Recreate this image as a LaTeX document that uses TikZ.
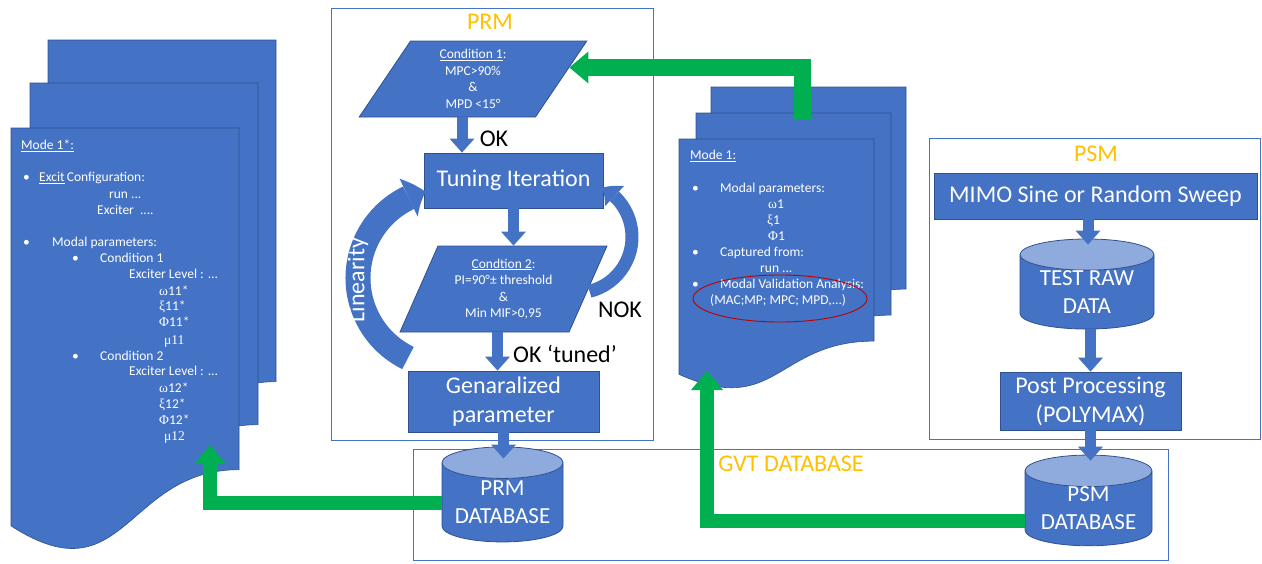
\documentclass[tikz,border=0pt]{standalone}
\usepackage{fontspec}
\setmainfont{Carlito}
\newfontfamily\grk{Liberation Serif}
\usetikzlibrary{shapes.geometric,arrows.meta,bending,calc}

\definecolor{boxblue}{HTML}{4472C4}
\definecolor{edgeblue}{HTML}{2F528F}
\definecolor{topblue}{HTML}{8FAADC}
\definecolor{tagorange}{HTML}{FFC000}
\definecolor{flowgreen}{HTML}{00B050}
\definecolor{ringred}{HTML}{C00000}

% one sheet of a stacked document: left, top, width, height
\newcommand{\docsheet}[4]{%
  \filldraw[sheet] (#1,-#2) -- ({#1+#3},-#2) -- ({#1+#3},{-#2-0.802*#4})
    .. controls ({#1+0.5*#3},{-#2-0.802*#4}) and ({#1+0.5*#3},{-#2-1.107*#4}) .. (#1,{-#2-0.934*#4}) -- cycle;}

\tikzset{
  bigfont/.style={font=\fontsize{24}{29}\selectfont},
  smallfont/.style={font=\fontsize{13.5}{16.5}\selectfont},
  procbox/.style={draw=edgeblue, line width=0.8pt, fill=boxblue, text=white, bigfont, align=center, inner sep=0pt},
  database/.style={cylinder, shape border rotate=90, aspect=0.33, draw=edgeblue, line width=0.8pt,
    cylinder uses custom fill, cylinder body fill=boxblue, cylinder end fill=topblue,
    text=white, align=center, inner sep=0pt, font=\fontsize{23}{28}\selectfont},
  testbox/.style={trapezium, trapezium stretches=true, trapezium left angle=65, trapezium right angle=115,
    draw=edgeblue, line width=0.8pt, fill=boxblue, text=white, smallfont, align=center, inner sep=0pt},
  sheet/.style={fill=boxblue, draw=edgeblue, line width=0.6pt},
  sheettext/.style={smallfont, text=white, anchor=west, inner sep=0pt, text height=9.5pt, text depth=3pt},
  frame/.style={draw=boxblue, line width=0.9pt},
  tag/.style={bigfont, text=tagorange, inner sep=0pt},
  flowlabel/.style={bigfont, text=black, inner sep=0pt},
  bluearrow/.style={draw=boxblue, line width=11pt, -{Triangle[width=25pt,length=14pt,line width=0pt]}},
  greenarrow/.style={draw=flowgreen, line width=14pt, line join=miter, -{Triangle[width=32pt,length=19pt,line width=0pt]}},
  looparrow/.style={draw=boxblue, line width=25pt, -{Triangle[width=42pt,length=18pt,line width=0pt,bend]}},
  nokarrow/.style={draw=boxblue, line width=13pt, -{Triangle[width=28pt,length=15pt,line width=0pt,bend]}},
}

\begin{document}
\begin{tikzpicture}[x=1pt,y=1pt]
  \useasboundingbox (0,0) rectangle (1262,-563);

  % frames
  \draw[frame] (331,-8) rectangle (653,-440);
  \draw[frame] (929,-138) rectangle (1260,-439);
  \draw[frame] (413,-449) rectangle (1168,-560.5);
  \node[tag] (prmtag) at (490,-22) {PRM};
  \node[tag] (psmtag) at (1096,-154) {PSM};
  \node[tag] (gvttag) at (791,-464) {GVT DATABASE};

  % left stack of sheets
  \docsheet{48}{40}{228}{426}
  \docsheet{30}{83}{228}{426}
  \docsheet{11}{128}{228}{426}
  \foreach \px/\py/\txt [count=\i] in {
      21/146/{\underline{Mode 1*:}},
      23/178/{\textbullet}, 39/178/{\underline{Excit}\,Configuration:},
      109/195/{run ...}, 97/211/{Exciter\ \ ....},
      23/243/{\textbullet}, 52/243/{Modal parameters:},
      72/259/{\textbullet}, 100/259/{Condition 1},
      129/275.5/{Exciter Level\ : ...},
      159/292/{{\grk ω}11*}, 159/307/{{\grk ξ}11*}, 159/323/{{\grk Φ}11*}, 164/341/{{\grk μ11}},
      72/357/{\textbullet}, 100/357/{Condition 2},
      129/372.5/{Exciter Level\ : ...},
      159/389/{{\grk ω}12*}, 159/405/{{\grk ξ}12*}, 159/421/{{\grk Φ}12*}, 164/437/{{\grk μ12}}}
    \node[sheettext] (lt\i) at (\px,-\py) {\txt};

  % right stack of sheets
  \docsheet{711}{87}{195}{252}
  \docsheet{696}{113}{195}{252}
  \docsheet{679}{139}{195}{252}
  \foreach \px/\py/\txt [count=\i] in {
      690/156.5/{\underline{Mode 1:}},
      692/189/{\textbullet}, 720/189/{Modal parameters:},
      768/205.5/{{\grk ω}1}, 767/221.5/{{\grk ξ}1}, 768/237/{{\grk Φ}1},
      692/253/{\textbullet}, 720/253/{Captured from:},
      760/269/{run ...},
      692/285.5/{\textbullet}, 720/285.5/{Modal Validation Analysis:},
      710/301.5/{(MAC;MP;\ MPC; MPD,...)}}
    \node[sheettext] (rt\i) at (\px,-\py) {\txt};
  \node[draw=ringred, line width=0.9pt, ellipse, minimum width=174pt, minimum height=47pt] (ring) at (780,-298.5) {};

  % PRM flow
  \node[testbox, minimum width=228pt, minimum height=76pt] (cond1) at (473,-79)
    {\underline{Condition 1}:\\MPC>90\%\\\&\\MPD <15°};
  \node[procbox, minimum width=179pt, minimum height=55pt] (tuning) at (513.5,-180.5) {Tuning Iteration};
  \node[testbox, minimum width=207pt, minimum height=86pt] (cond2) at (503.5,-289)
    {\underline{Condtion 2}:\\PI=90°± threshold\\\&\\Min MIF>0,95};
  \node[procbox, minimum width=191pt, minimum height=61pt] (gen) at (503.5,-401.5) {Genaralized\\parameter};
  \node[database, minimum width=121pt, minimum height=95pt] (prmdb) at (502.5,-502.5) {PRM\\DATABASE};

  \draw[bluearrow] ([xshift=-11pt]cond1.south) -- ([xshift=-11pt]cond1.south |- tuning.north);
  \draw[bluearrow] (tuning.south) -- (tuning.south |- cond2.north);
  \draw[bluearrow] ([xshift=-6pt]cond2.south) -- ([xshift=-6pt]cond2.south |- gen.north);
  \draw[bluearrow] (gen.south) -- ([yshift=-12pt]gen.south |- prmdb.north);
  \node[flowlabel] (ok) at (494,-139) {OK};
  \node[flowlabel] (oktuned) at (565,-354) {OK ‘tuned’};
  \node[flowlabel] (nok) at (620,-310) {NOK};

  \coordinate (lincentre) at (447,-278);
  \draw[looparrow] ([shift={(244:89)}]lincentre) arc[start angle=244, end angle=104, radius=89];
  \node[bigfont, text=white, rotate=90, inner sep=0pt] (lintext) at (358,-280) {Linearity};
  \coordinate (nokcentre) at (576,-237);
  \draw[nokarrow] ([shift={(-76:56)}]nokcentre) arc[start angle=-76, end angle=62, radius=56];

  % PSM flow
  \node[procbox, minimum width=323pt, minimum height=46pt] (mimo) at (1095.5,-196) {MIMO Sine or Random Sweep};
  \node[database, minimum width=134pt, minimum height=82pt] (rawdata) at (1087,-292) {TEST RAW\\DATA};
  \node[procbox, minimum width=181pt, minimum height=58pt] (post) at (1090.5,-401) {Post Processing\\(POLYMAX)};
  \node[database, minimum width=127pt, minimum height=83pt] (psmdb) at (1088.5,-508.5) {PSM\\DATABASE};

  \draw[bluearrow] ([xshift=-7.5pt]mimo.south) -- ([xshift=-7.5pt,yshift=-6pt]mimo.south |- rawdata.north);
  \draw[bluearrow] (rawdata.south -| post.north) -- (post.north);
  \draw[bluearrow] (post.south) -- ([yshift=-6pt]post.south |- psmdb.north);

  % green links
  \coordinate (rstack) at (802,-119);
  \coordinate (lsheet) at (210,-445);
  \coordinate (rsheet) at (707,-371);
  \draw[greenarrow, line width=17pt] (rstack) |- ($(cond1.top right corner)!0.35!(cond1.bottom right corner)$);
  \draw[greenarrow] (prmdb.west) -| (lsheet);
  \draw[greenarrow] ([yshift=-12pt]psmdb.west) -| (rsheet);
\end{tikzpicture}
\end{document}
